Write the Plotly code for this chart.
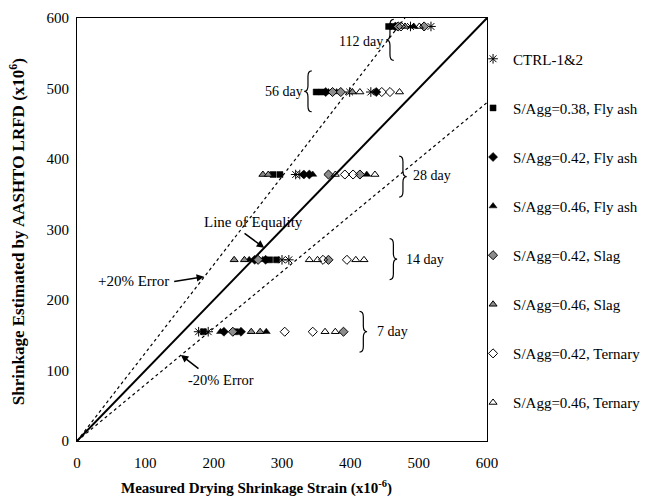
import plotly.graph_objects as go

# AASHTO LRFD estimated shrinkage for each age (x10^-6)
age_labels = ["7 day", "14 day", "28 day", "56 day", "112 day"]
aashto_estimate = [155, 257, 378, 495, 588]

# Measured drying shrinkage strain per mix, one list per age (x10^-6)
ctrl_12 = [[178, 192], [300, 310], [320, 326], [399, 430], [488, 518]]
fa_038 = [[185, 232], [282, 292], [287, 297], [350, 358], [456, 462]]
fa_042 = [[215, 240], [260, 276], [332, 340], [364, 438], [466]]
fa_046 = [[210, 277], [252, 272], [345, 424], [368, 380], [493]]
slag_042 = [[228, 390], [265, 368], [368, 414], [374, 386], [470, 508]]
slag_046 = [[255, 268], [230, 245], [272, 280], [403], [480]]
tern_042 = [[304, 345], [360, 395], [392, 404], [446, 458], [474]]
tern_046 = [[363, 378], [340, 352, 408, 420], [378, 436], [414, 472], [501]]

series_names = [
    "CTRL-1&2",
    "S/Agg=0.38, Fly ash",
    "S/Agg=0.42, Fly ash",
    "S/Agg=0.46, Fly ash",
    "S/Agg=0.42, Slag",
    "S/Agg=0.46, Slag",
    "S/Agg=0.42, Ternary",
    "S/Agg=0.46, Ternary",
]
series_values = [ctrl_12, fa_038, fa_042, fa_046, slag_042, slag_046, tern_042, tern_046]

# Error bounds relative to equality (estimate = ratio * measured)
upper_ratio = 1.25
lower_ratio = 0.8
axis_max = 600
axis_ticks = [0, 100, 200, 300, 400, 500, 600]

SERIF = "Liberation Serif"
BLACK = "#000000"
GRAY = "#8c8c8c"

marker_styles = [
    dict(symbol="asterisk-open", size=8, color=BLACK, line=dict(color=BLACK, width=1)),
    dict(symbol="square", size=6, color=BLACK, line=dict(color=BLACK, width=0.5)),
    dict(symbol="diamond", size=7, color=BLACK, line=dict(color=BLACK, width=0.5)),
    dict(symbol="triangle-up", size=7, color=BLACK, line=dict(color=BLACK, width=0.5)),
    dict(symbol="diamond", size=7, color=GRAY, line=dict(color=BLACK, width=1)),
    dict(symbol="triangle-up", size=7, color=GRAY, line=dict(color=BLACK, width=1)),
    dict(symbol="diamond-open", size=7, color=BLACK, line=dict(color=BLACK, width=1)),
    dict(symbol="triangle-up-open", size=7, color=BLACK, line=dict(color=BLACK, width=1)),
]

fig = go.Figure()

# Reference lines: equality and +/-20% error
fig.add_trace(go.Scatter(
    x=[0, axis_max], y=[0, axis_max], mode="lines",
    line=dict(color=BLACK, width=2), showlegend=False, hoverinfo="skip"))
fig.add_trace(go.Scatter(
    x=[0, axis_max / upper_ratio], y=[0, axis_max], mode="lines",
    line=dict(color=BLACK, width=1.2, dash="dot"), showlegend=False, hoverinfo="skip"))
fig.add_trace(go.Scatter(
    x=[0, axis_max], y=[0, axis_max * lower_ratio], mode="lines",
    line=dict(color=BLACK, width=1.2, dash="dot"), showlegend=False, hoverinfo="skip"))

for name, per_age, style in zip(series_names, series_values, marker_styles):
    xs, ys = [], []
    for est, measured in zip(aashto_estimate, per_age):
        xs.extend(measured)
        ys.extend([est] * len(measured))
    fig.add_trace(go.Scatter(
        x=xs, y=ys, mode="markers", name=name, legendgroup=name,
        marker=style))


def brace_path(cx, cy, half_w, half_h, bend, facing):
    """Curly brace path in data units; facing=+1 points right, -1 points left."""
    x0 = cx - facing * half_w
    x1 = cx
    x2 = cx + facing * half_w
    top, bot = cy + half_h, cy - half_h
    return (f"M {x0},{top} Q {x1},{top} {x1},{top - bend} "
            f"L {x1},{cy + bend} Q {x1},{cy} {x2},{cy} "
            f"Q {x1},{cy} {x1},{cy - bend} "
            f"L {x1},{bot + bend} Q {x1},{bot} {x0},{bot}")


# Age labels and their braces (label side: left of a "{" or right of a "}")
age_label_pos = {
    "112 day": dict(brace_x=458, brace_y=569, facing=-1, text_x=450, text_y=566),
    "56 day": dict(brace_x=338, brace_y=496, facing=-1, text_x=334, text_y=496),
    "28 day": dict(brace_x=477, brace_y=375, facing=1, text_x=489, text_y=377),
    "14 day": dict(brace_x=463, brace_y=258, facing=1, text_x=479, text_y=257),
    "7 day": dict(brace_x=419, brace_y=155, facing=1, text_x=436, text_y=156),
}

annotations = []
shapes = []
for label in age_labels:
    p = age_label_pos[label]
    shapes.append(dict(type="path", xref="x", yref="y",
                       path=brace_path(p["brace_x"], p["brace_y"], 5.5, 29, 8, p["facing"]),
                       line=dict(color=BLACK, width=1.2)))
    annotations.append(dict(x=p["text_x"], y=p["text_y"], text=label, showarrow=False,
                            xanchor="right" if p["facing"] < 0 else "left",
                            font=dict(family=SERIF, size=14, color=BLACK)))

# Line labels
annotations.append(dict(x=259, y=311, text="Line of Equality", showarrow=False,
                        font=dict(family=SERIF, size=15, color=BLACK)))
annotations.append(dict(x=82, y=227, text="+20% Error", showarrow=False,
                        font=dict(family=SERIF, size=15, color=BLACK)))
annotations.append(dict(x=210, y=87, text="-20% Error", showarrow=False,
                        font=dict(family=SERIF, size=14.5, color=BLACK)))

# Pointer arrows from the labels to their lines
for tail, tip in [((243, 296), (274, 274)),
                  ((140, 226), (186, 233)),
                  ((180, 101), (152, 122))]:
    annotations.append(dict(x=tip[0], y=tip[1], ax=tail[0], ay=tail[1],
                            xref="x", yref="y", axref="x", ayref="y",
                            text="", showarrow=True, arrowhead=2, arrowsize=1,
                            arrowwidth=1.5, arrowcolor=BLACK))

# Axis titles
annotations.append(dict(x=0.4366, y=-0.109, xref="paper", yref="paper",
                        text="<b>Measured Drying Shrinkage Strain (x10<sup>-6</sup>)</b>",
                        showarrow=False, xanchor="center", yanchor="middle",
                        font=dict(family=SERIF, size=15, color=BLACK)))
annotations.append(dict(x=-0.146, y=0.494, xref="paper", yref="paper",
                        text="<b>Shrinkage Estimated by AASHTO LRFD (x10<sup>6</sup>)</b>",
                        showarrow=False, textangle=-90, xanchor="center", yanchor="middle",
                        font=dict(family=SERIF, size=17, color=BLACK)))

axis_common = dict(
    range=[0, axis_max], tickvals=axis_ticks, ticks="",
    showgrid=False, zeroline=False, showline=True, linecolor=BLACK, linewidth=1,
    mirror=True, tickfont=dict(family=SERIF, size=15, color=BLACK),
)

fig.update_layout(
    width=648, height=500,
    margin=dict(l=77, r=161, t=18, b=59, autoexpand=False),
    paper_bgcolor="white", plot_bgcolor="white",
    font=dict(family=SERIF, color=BLACK),
    xaxis=dict(**axis_common, ticklabelstandoff=8),
    yaxis=dict(**axis_common, ticklabelstandoff=4),
    legend=dict(x=0.966, xanchor="left", y=0.942, yanchor="top",
                font=dict(family=SERIF, size=15, color=BLACK),
                tracegroupgap=26.6, bgcolor="rgba(0,0,0,0)", borderwidth=0),
    annotations=annotations,
    shapes=shapes,
    showlegend=True,
)

fig.write_html("out.html")
